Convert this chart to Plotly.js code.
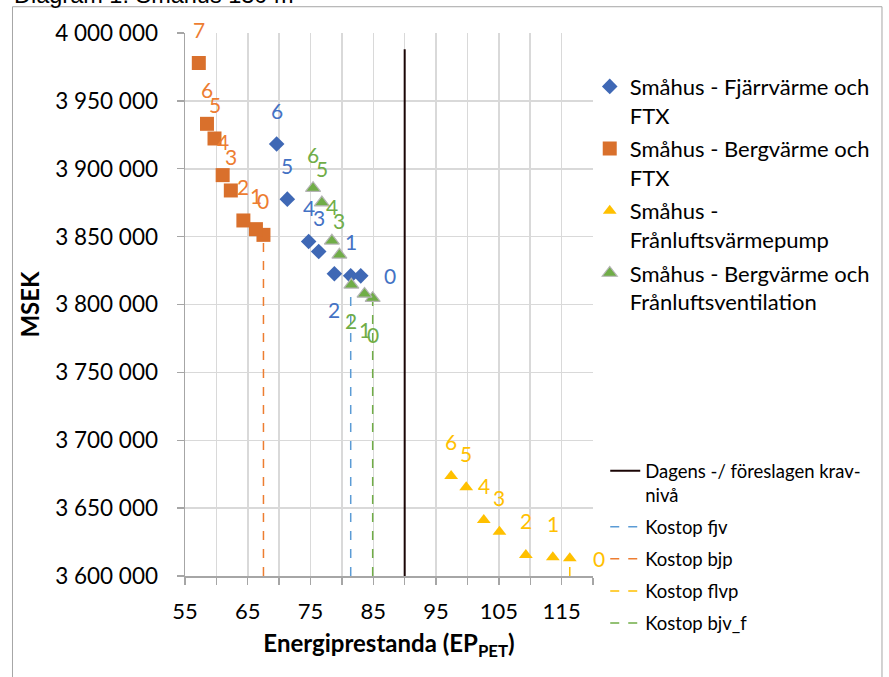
<!DOCTYPE html>
<html><head><meta charset="utf-8">
<script src="https://cdn.plot.ly/plotly-3.0.1.min.js"></script>
<style>html,body{margin:0;padding:0;background:#fff;} #chart{width:889px;height:677px;}</style>
</head><body><div id="chart"></div>
<script>
// ---- data ----
const pointLabels = ['0','1','2','3','4','5','6','7'];
const fjvName = 'Småhus - Fjärrvärme och<br>FTX';
const fjvX = [83.0, 81.4, 78.8, 76.3, 74.7, 71.3, 69.6];
const fjvY = [3821100, 3821100, 3822600, 3839000, 3846400, 3877600, 3918200];
const bjpName = 'Småhus - Bergvärme och<br>FTX';
const bjpX = [67.5, 66.3, 64.3, 62.3, 61.0, 59.7, 58.5, 57.2];
const bjpY = [3851300, 3855500, 3861900, 3884000, 3895300, 3922300, 3933100, 3977900];
const flvpName = 'Småhus -<br>Frånluftsvärmepump';
const flvpX = [116.3, 113.6, 109.3, 105.1, 102.6, 99.8, 97.4];
const flvpY = [3613000, 3613800, 3615500, 3632600, 3641300, 3665400, 3673700];
const bjvfName = 'Småhus - Bergvärme och<br>Frånluftsventilation';
const bjvfX = [84.9, 83.6, 81.5, 79.6, 78.4, 76.8, 75.4];
const bjvfY = [3804700, 3807800, 3814500, 3836600, 3846900, 3875100, 3885700];
const kravName = 'Dagens -/ föreslagen krav-<br>nivå';
const kravX = [90, 90];
const kravY = [3600000, 3988000];
const kostopNames = ['Kostop fjv', 'Kostop bjp', 'Kostop flvp', 'Kostop bjv_f'];
const kostopX = [81.4, 67.5, 116.3, 84.9];
const kostopY = [3821100, 3851300, 3613000, 3804700];
const yMin = 3600000, yMax = 4000000;
const xTickLabels = ['55','65','75','85','95','105','115'];

// ---- styling ----
const FONT = 'Lato, "Open Sans", sans-serif';
const cBlue = '#4472c4', cOrange = '#ed7d31', cYellow = '#ffc000', cGreen = '#70ad47';
const cKost = ['#5b9bd5', '#ed7d31', '#ffc000', '#70ad47'];
const fjvPos  = ['right','above','below','above','above','above','above'];
const bjpPos  = ['above','above','above','above','above','above','above','above'];
const flvpPos = ['right','above','above','above','above','above','above'];
const bjvfPos = ['below','below','below','above','above','above','above'];

function labelAnns(xs, ys, pos, color) {
  return xs.map((x, i) => ({
    x: x, y: ys[i], xref: 'x', yref: 'y', text: pointLabels[i], showarrow: false,
    font: {family: FONT, size: 21, color: color},
    xanchor: 'center', yanchor: 'middle',
    xshift: pos[i] === 'right' ? 29 : 0,
    yshift: pos[i] === 'above' ? 34 : (pos[i] === 'below' ? -36 : 0)
  }));
}

const traces = [];
kostopNames.forEach((n, i) => {
  traces.push({
    type: 'scatter', mode: 'lines', name: n, legend: 'legend2', legendgroup: 'k' + i,
    x: [kostopX[i], kostopX[i]], y: [yMin, kostopY[i]],
    line: {color: cKost[i], width: 1.5, dash: 'dash'}, hoverinfo: 'skip'
  });
});
traces.unshift({
  type: 'scatter', mode: 'lines', name: kravName, legend: 'legend2', legendgroup: 'krav',
  x: kravX, y: kravY, line: {color: '#1a0505', width: 2}, hoverinfo: 'skip'
});
traces.push(
  {type: 'scatter', mode: 'markers', name: fjvName, legendgroup: 'a', x: fjvX, y: fjvY,
   marker: {symbol: 'diamond', size: 12, color: '#3f68b5'}},
  {type: 'scatter', mode: 'markers', name: bjpName, legendgroup: 'b', x: bjpX, y: bjpY,
   marker: {symbol: 'square', size: 14, color: '#d9702c'}},
  {type: 'scatter', mode: 'markers', name: flvpName, legendgroup: 'c', x: flvpX, y: flvpY,
   marker: {symbol: 'triangle-up', size: 12, color: cYellow}},
  {type: 'scatter', mode: 'markers', name: bjvfName, legendgroup: 'd', x: bjvfX, y: bjvfY,
   marker: {symbol: 'triangle-up', size: 13, color: cGreen, line: {color: '#b4b4b4', width: 1.2}}}
);

const annotations = [].concat(
  labelAnns(bjpX, bjpY, bjpPos, cOrange),
  labelAnns(fjvX, fjvY, fjvPos, cBlue),
  labelAnns(bjvfX, bjvfY, bjvfPos, cGreen),
  labelAnns(flvpX, flvpY, flvpPos, cYellow)
);
annotations.push({
  xref: 'paper', yref: 'paper', x: -0.424, y: 1.070, xanchor: 'left', yanchor: 'middle',
  text: 'Diagram 1: Småhus 130 m', showarrow: false,
  font: {family: '"Liberation Sans", Arial, sans-serif', size: 23.5, color: '#000'}
});

const layout = {
  width: 889, height: 677,
  margin: {l: 185, r: 296, t: 33, b: 101, autoexpand: false},
  paper_bgcolor: '#fff', plot_bgcolor: '#fff',
  separators: ', ',
  showlegend: true,
  font: {family: FONT, color: '#000'},
  xaxis: {
    range: [55, 120], tickmode: 'array',
    tickvals: xTickLabels.map(Number), ticktext: xTickLabels,
    ticks: 'outside', ticklen: 7, tickcolor: '#a6a6a6', tickwidth: 1.3,
    showgrid: true, gridcolor: '#d9d9d9', gridwidth: 1.5,
    minor: {dtick: 5, tick0: 55, showgrid: true, gridcolor: '#d9d9d9', gridwidth: 1.5,
            ticks: 'outside', ticklen: 7, tickcolor: '#a6a6a6'},
    showline: true, linecolor: '#a6a6a6', linewidth: 1.5, zeroline: false,
    tickfont: {family: FONT, size: 22, color: '#000'},
    ticklabelstandoff: 8,
    title: {text: '<b>Energiprestanda (EP<sub>PET</sub>)</b>', font: {family: FONT, size: 24, color: '#000'}, standoff: 12}
  },
  yaxis: {
    range: [yMin, yMax], dtick: 50000, tick0: yMin, tickformat: ',d',
    ticks: 'outside', ticklen: 7, tickcolor: '#a6a6a6', tickwidth: 1.3,
    showgrid: true, gridcolor: '#d9d9d9', gridwidth: 1.5,
    showline: true, linecolor: '#a6a6a6', linewidth: 1.5, zeroline: false,
    tickfont: {family: FONT, size: 22.5, color: '#000'},
    ticklabelstandoff: 14,
    title: {text: '<b>MSEK</b>', font: {family: FONT, size: 24, color: '#000'}, standoff: 8}
  },
  legend: {
    x: 0.992, xanchor: 'left', y: 0.94, yanchor: 'top',
    font: {family: FONT, size: 22, color: '#000'}, bgcolor: 'rgba(255,255,255,0)',
    tracegroupgap: 2, valign: 'top', itemwidth: 30
  },
  legend2: {
    x: 1.03, xanchor: 'left', y: 0.228, yanchor: 'top',
    font: {family: FONT, size: 18.5, color: '#000'}, bgcolor: '#ffffff',
    tracegroupgap: 5, valign: 'top', itemwidth: 30
  },
  shapes: [{
    type: 'rect', xref: 'paper', yref: 'paper', x0: -0.4228, x1: 1.7083, y0: -0.25, y1: 1.0484,
    line: {color: '#a6a6a6', width: 1}, fillcolor: 'rgba(0,0,0,0)', layer: 'below'
  }],
  annotations: annotations
};

Plotly.newPlot('chart', traces, layout, {staticPlot: true, displayModeBar: false});
</script>
</body></html>
